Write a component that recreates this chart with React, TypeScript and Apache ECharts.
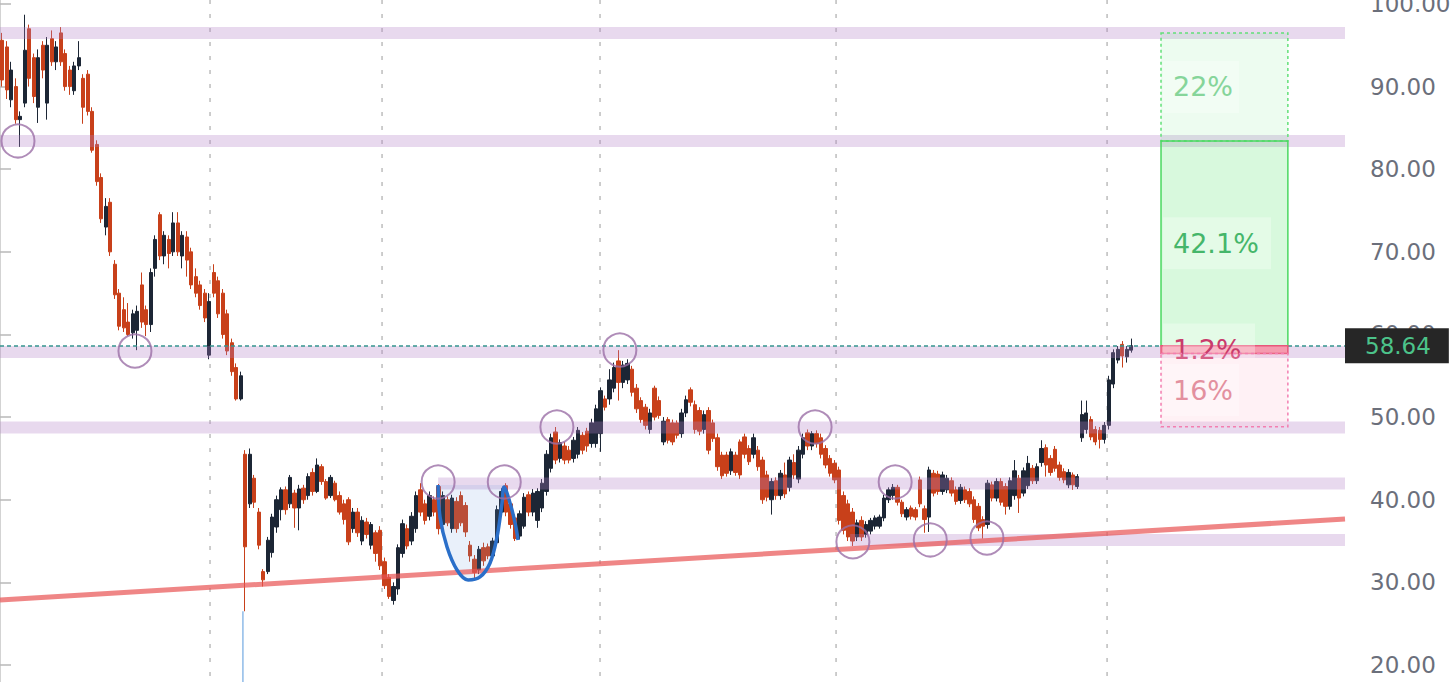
import React, { useEffect, useRef } from "react";
import * as echarts from "echarts";

// [open, close, low, high]
const ohlc: number[][] = [
  [95.6,90.8,90,96.5],[94.8,89.6,88.5,95.5],[88.4,92,87.5,93],[90,86,85.5,91],[86,86.4,82.7,87],
  [88,94.4,87.5,98.7],[97,91,90,97.5],[93.5,88.8,88,94],[87.5,93.5,85.6,94.5],[95,92,91,95.5],
  [88,95,86,96],[95.8,93,92.5,96.8],[93,94.8,92,95.5],[96.5,93,92.5,97.2],[94,90,89.5,94.5],
  [92,90,89,92.5],[89.5,92.5,89,93],[92.5,93.5,92,95.5],[91,87.5,85.5,91.5],[91.5,87,86.5,92],
  [87,82.3,82,87.5],[83,78.5,78,83.5],[79,74,73.5,79.5],[73,75.5,72,76.5],[76,70,69.5,76.5],
  [68.5,64.8,64.3,69],[65,61,60.5,65.5],[63,60.8,60.3,64.5],[61.5,60,59.8,63.8],[60.2,62.5,59.5,63],
  [60.5,62.8,58.1,63.5],[66,61.5,60.8,67.5],[63,61.2,59.8,63.5],[61.2,67.5,60.3,68],[68,71.5,67,72],
  [74.5,69.5,69,74.8],[69.5,72,68.5,72.5],[71.5,69.8,68,72],[70,73.5,69.5,74.8],[73.5,70,69.5,74.8],
  [69.5,72,68,72.5],[71.8,69,67,72.5],[70,66,65.5,70.5],[67,65,64.5,68],[66,63.5,63,66.5],
  [65,62,61.5,65.5],[57.5,64,57,65],[67.5,65,64.5,68.5],[66.5,62.5,62,67],[65,60,59.5,65.5],
  [62.5,58,57.5,63],[59,55.5,55,59.5],[56,52.2,52,56.5],[52.2,55,52,55.5],[45.5,34.3,26.5,46],
  [39.5,45.5,39,46.2],[42.6,39.7,39,43],[38.5,34.5,34,39],[31.3,30.3,29.5,31.6],[31.3,35.1,31,35.5],
  [33.6,37.9,33,38.3],[36.7,40,36,40.5],[38.8,41.2,37.5,41.5],[41.2,38.8,38.2,41.6],[39.5,42.7,39,43],
  [40.8,39,36.6,41.2],[39,41.3,36.3,41.8],[41.4,40,39.5,41.8],[40.5,42.8,40,43.2],[43.3,41,40.5,43.8],
  [41,44.2,40.8,45],[44,42.2,41.8,44.3],[42.2,40.2,40,42.5],[40.5,42.7,40.2,43],[42,40,39.8,42.3],
  [40.5,38.5,38.2,41],[39.5,37.6,37,40],[40,34.9,34.5,40.3],[36.5,38.5,36,39],[38.5,36,35.5,39],
  [35,37.5,34.5,38],[37.3,35.8,35.3,37.8],[34.5,37,34,37.3],[36,33.5,32.5,36.3],[36.3,32,31.5,36.8],
  [32.5,29.6,29.2,33],[30.6,28.3,28,31],[27.8,29.5,27.3,30],[29.2,34.2,28.5,34.6],[33.5,37.1,33,37.6],
  [36.5,34.4,34,37],[35,38,34.5,38.5],[36.5,40.5,36,41],[41.2,38.5,38,42],[39.5,37.5,37,40],
  [38,40.5,37.5,41],[40,38.5,38,40.4],[41.6,36.5,35.8,41.9],[37,40.5,36.5,41],[40,37.2,36.8,40.4],
  [36.5,40.2,36,40.6],[39.8,36.5,36,40.3],[40.5,37.2,36.8,41],[39.3,36.1,35.5,39.7],[34.5,33.2,32.5,35],
  [32.8,31.2,30.5,33.3],[31.5,34,31,34.4],[34.2,32.6,32,34.8],[34.3,33.2,32.8,34.7],[33.2,35,32.8,35.4],
  [34.8,38.8,34.5,39.3],[38.5,41,38,41.4],[41.7,38.5,38,42],[39.5,37,36.5,40],[37.8,35.3,35,38.2],
  [35.6,38.3,35.2,38.7],[36.8,40.3,36.5,40.8],[40.6,38.5,38,41],[38.5,40.8,38,41.3],[37.5,41,36.6,41.4],
  [39,42,38.5,42.5],[41,45.5,40.5,46],[43.8,47.5,43.3,48],[48.2,44.8,44.3,48.8],[45,46.9,44.5,47.3],
  [46.5,44.8,44.3,47],[46,44.8,44.4,46.5],[45,47.2,44.5,47.6],[45.5,48.4,45,48.8],[47.8,46,45.5,48.2],
  [48.3,46.5,45.8,48.7],[46.8,49.3,46.3,49.8],[46.8,51,46.3,51.5],[48,53.2,45.8,53.6],[52.2,51.2,50.8,52.6],
  [52.2,54.5,51.5,55.8],[53.5,56,53,56.6],[56.8,54.2,52,58.1],[54.2,56.3,53.5,56.8],[54.5,56.5,54,57],
  [55.8,53,52.5,56.2],[53.5,51,50.5,54],[52,49.7,49.3,52.4],[51.2,49,48.5,51.6],[48.5,50.5,48,51],
  [53.5,50,49.6,53.8],[52,50.2,49.8,52.5],[47,49.5,46.6,50],[49.7,47.2,46.8,50],[49.3,47,46.6,49.7],
  [49.3,47.8,47.4,49.6],[48,50.5,47.5,51],[50.5,52.1,50,52.6],[53.3,51.8,51.3,53.6],[51.5,48.5,48,52],
  [50.8,48.3,47.8,51.2],[48.5,50.3,48,50.8],[50.8,46,45.5,51.2],[49.3,47.4,47,49.7],[47.5,44,43.5,48],
  [45.4,42.9,42.5,45.8],[45.4,43.2,42.8,45.8],[43.5,45.8,43,46.2],[45.4,43.3,42.9,45.8],[47,43,42.5,47.3],
  [47.6,45.5,45,48],[46.2,44.6,44.2,46.6],[45.5,47.5,45,48],[46,44,43.5,46.5],[44.8,40,39.5,45.2],
  [43,40.3,39.8,43.5],[40,42.2,38.2,42.6],[42.3,40.5,40,42.7],[40.5,43.2,40,43.6],[43,40.7,40.2,44.5],
  [41.5,44.8,41,45.2],[44.5,43,42.5,45.5],[42.5,46,42,46.5],[45.5,47.5,45,48],[48.1,46.5,46,48.5],
  [46.5,48,46,48.3],[48,46.8,46.3,48.4],[47.5,45.5,45,48],[46.2,44.2,43.8,46.6],[45,43.2,42.8,45.4],
  [44.4,42.4,42,44.8],[43.6,37.5,37,44],[40.5,36.3,35.8,41],[39.5,35.5,35,40],[38.5,35,34.4,39],
  [35.5,37.2,35,37.6],[37.5,35.5,35,38],[35.8,37,35.4,37.4],[36.2,37.5,35.8,37.8],[36.8,37.8,36.4,38.1],
  [36.8,37.9,36.5,38.2],[37.8,40.2,37.4,40.6],[40,41.2,39.6,41.5],[40.5,41.5,40,41.9],[41.5,39.7,39.3,41.8],
  [39.7,38.3,37.9,40],[37.9,38.8,37.5,39.1],[39,38,37.6,39.3],[38.8,37.9,37.5,39.1],[42.4,39.5,39.1,42.8],
  [38.9,37.6,36,39.3],[37.9,43.6,36.1,44],[43.2,40.8,40.4,43.6],[43.1,41,40.6,43.5],[41,43,40.6,43.4],
  [41.2,42.6,40.8,43],[42.3,40.8,40.4,42.7],[41.2,39.8,39.4,41.6],[39.9,41.5,39.5,41.9],[41.2,40,39.6,41.6],
  [41,39.5,39.1,41.4],[40,37.6,37.2,40.4],[39.2,36.6,36.2,39.6],[37.6,36.8,35.3,38],[37,42,36.5,42.4],
  [41.8,40.2,39.8,42.2],[40.2,42.2,39.8,42.6],[42.2,39.7,39.3,42.6],[41.6,39.2,38.2,42],[39.2,42.3,38.8,42.7],
  [40.5,43.5,40,44.8],[42.6,40.2,38.4,43],[40.8,43.5,40.4,43.9],[41.7,44.4,41.3,45.3],[43.8,42.3,41.9,44.2],
  [42.3,44,41.9,44.4],[44.5,46.2,44,47.2],[46.3,44.2,42.8,46.7],[45,43.3,42.9,45.4],[46.1,43.8,43.4,46.5],
  [44.2,42.7,42.3,44.6],[43.4,42.4,42,43.8],[41.8,43.3,41.4,43.7],[43,41.8,41.2,43.3],[41.6,42.8,41.3,43.1],
  [47.5,50.3,47,52],[48.5,50.5,48,52],[49.7,47.6,47.2,50.1],[48.5,47,46.6,48.9],[48.4,47.3,46.2,48.8],
  [47.3,49,46.8,49.4],[49,54.5,48.5,55],[54,57.8,53.5,58.2],[56.9,58.2,56.5,58.6],[58.8,57.4,56,59.2],
  [57.3,58.2,56.6,58.6],[58.1,58.64,57.8,59.5],
];

const slotCount = 299;
const slots = Array.from({ length: slotCount }, (_, i) => String(i));
const yTicks = [20, 30, 40, 50, 60, 70, 80, 90, 100];
const yMin = 17.94;
const yMax = 100.48;
const currentPrice = 58.64;

const dividerSlots = [46.69, 84.93, 133.39, 185.86, 246.11];
// [fromSlot, toSlot, level]
const levelBands = [
  [0, 299, 96.49],
  [0, 299, 83.42],
  [0, 299, 57.88],
  [0, 299, 48.74],
  [97.4, 299, 41.97],
  [189, 299, 35.13],
];
const bandHalf = 0.72;
const touchPoints = [
  [4.0, 83.42], [30.0, 58.0], [97.4, 42.15], [112.1, 42.15], [123.8, 48.8], [137.8, 58.12],
  [181.2, 48.8], [189.6, 34.9], [199.0, 42.15], [206.8, 35.13], [219.4, 35.37],
];
const trendLine = [[0, 27.87], [299, 37.67]];
const cupPath = [
  [97.38, 41.79], [97.82, 37.91], [99.38, 34.28], [101.6, 31.5], [104.05, 30.29], [106.71, 30.65],
  [108.94, 32.34], [110.49, 35.49], [111.61, 39.61], [112.05, 41.54], [113.38, 39.61], [114.5, 37.19],
  [115.16, 35.13],
];
const cupRim = 41.79;
const gapWick = [[54.0, 26.5], [54.0, 17.9]];
const toolSlots = [258.1, 286.3];
const toolLevels = [96.49, 83.42, 58.64, 57.7, 48.83];
const toolLabels = ["22%", "42.1%", "1.2%", "16%"];

const FONT = "'DejaVu Sans', Verdana, sans-serif";

const zoneStyles = [
  { fill: "rgba(110,230,130,0.12)", stroke: "#62e078", dash: [3, 3], text: "#86d59a" },
  { fill: "rgba(100,230,120,0.25)", stroke: "#4bd861", dash: null, text: "#45b66a" },
  { fill: "#f59aae", stroke: "#e8577a", dash: null, text: "#c93c6c" },
  { fill: "rgba(255,200,215,0.25)", stroke: "#f37eb0", dash: [3, 3], text: "#e3909f" },
];

export default function App() {
  const ref = useRef<HTMLDivElement>(null);

  useEffect(() => {
    if (!ref.current) return;
    const chart = echarts.init(ref.current, null, { renderer: "svg" });

    const toolData = toolLabels.map((_, k) => [toolSlots[0], toolSlots[1], toolLevels[k], toolLevels[k + 1], k]);

    const option: any = {
      animation: false,
      backgroundColor: "#ffffff",
      grid: { left: 0, right: 111, top: 0, bottom: 0, containLabel: false, outerBoundsMode: "none" },
      xAxis: [
        { type: "category", data: slots, show: false, boundaryGap: true },
        { type: "value", min: 0, max: slotCount, show: false, position: "top" },
      ],
      yAxis: {
        type: "value",
        position: "right",
        min: yMin,
        max: yMax,
        splitLine: { show: false },
        axisLine: { show: true, lineStyle: { color: "#c4c4c4", width: 1.5 } },
        axisTick: { show: true, length: 11, customValues: yTicks, lineStyle: { color: "#b8b8b8", width: 1.5 } },
        axisLabel: {
          customValues: yTicks,
          margin: 25,
          color: "#6b6f7b",
          fontSize: 23,
          fontFamily: FONT,
          formatter: (v: number) => (Math.abs(v / 10 - Math.round(v / 10)) < 1e-6 ? v.toFixed(2) : ""),
        },
      },
      series: [
        {
          type: "custom",
          name: "dividers",
          xAxisIndex: 1,
          z: 1,
          silent: true,
          data: dividerSlots.map((u) => [u, yMax]),
          renderItem: (params: any, api: any) => {
            const a = api.coord([api.value(0), yMax]);
            const b = api.coord([api.value(0), yMin]);
            return {
              type: "line",
              shape: { x1: a[0], y1: a[1], x2: b[0], y2: b[1] },
              style: { stroke: "#bdbdbd", lineWidth: 1.5, lineDash: [4, 10] },
            };
          },
        },
        {
          type: "candlestick",
          xAxisIndex: 0,
          z: 2,
          barWidth: 3.8,
          data: ohlc,
          itemStyle: {
            color: "#1c2635",
            color0: "#c8401a",
            borderColor: "#1c2635",
            borderColor0: "#c8401a",
            borderWidth: 1,
          },
        },
        {
          type: "line",
          xAxisIndex: 1,
          z: 2,
          data: gapWick,
          symbol: "none",
          lineStyle: { color: "#8fbbe8", width: 1.5 },
        },
        {
          type: "custom",
          name: "bands",
          xAxisIndex: 1,
          z: 3,
          silent: true,
          data: levelBands,
          renderItem: (params: any, api: any) => {
            const p0 = api.coord([api.value(0), api.value(2) + bandHalf]);
            const p1 = api.coord([api.value(1), api.value(2) - bandHalf]);
            return {
              type: "rect",
              shape: { x: p0[0], y: p0[1], width: p1[0] - p0[0], height: p1[1] - p0[1] },
              style: { fill: "rgba(180,130,200,0.3)" },
            };
          },
        },
        {
          type: "line",
          xAxisIndex: 1,
          z: 3,
          data: cupPath.slice(0, 10),
          smooth: 0.35,
          symbol: "none",
          lineStyle: { width: 0, opacity: 0 },
          areaStyle: { origin: cupRim, color: "rgba(110,160,225,0.22)" },
        },
        {
          type: "line",
          xAxisIndex: 1,
          z: 4,
          data: trendLine,
          symbol: "none",
          lineStyle: { color: "rgba(232,82,82,0.7)", width: 5 },
        },
        {
          type: "line",
          xAxisIndex: 1,
          z: 5,
          data: cupPath,
          smooth: 0.35,
          symbol: "none",
          lineStyle: { color: "#2a6fc9", width: 3.5 },
        },
        {
          type: "custom",
          name: "tool",
          xAxisIndex: 1,
          z: 6,
          silent: true,
          data: toolData,
          renderItem: (params: any, api: any) => {
            const k = api.value(4);
            const st = zoneStyles[k];
            const p0 = api.coord([api.value(0), api.value(2)]);
            const p1 = api.coord([api.value(1), api.value(3)]);
            const cy = (p0[1] + p1[1]) / 2;
            const label = toolLabels[k];
            const tw = label.length * 16 + 8;
            return {
              type: "group",
              children: [
                {
                  type: "rect",
                  shape: { x: p0[0], y: p0[1], width: p1[0] - p0[0], height: p1[1] - p0[1] },
                  style: { fill: st.fill, stroke: st.stroke, lineWidth: 1.5, lineDash: st.dash || undefined },
                },
                {
                  type: "rect",
                  shape: { x: p0[0] + 2, y: cy - 26, width: tw + 20, height: 52 },
                  style: { fill: "rgba(255,255,255,0.3)" },
                },
                {
                  type: "text",
                  x: p0[0] + 12,
                  y: cy,
                  style: {
                    text: label,
                    fill: st.text,
                    font: `27px ${FONT}`,
                    align: "left",
                    verticalAlign: "middle",
                  },
                },
              ],
            };
          },
        },
        {
          type: "scatter",
          xAxisIndex: 1,
          z: 7,
          data: touchPoints,
          symbol: "circle",
          symbolSize: 33,
          silent: true,
          itemStyle: { color: "rgba(0,0,0,0)", borderColor: "#9b6fa6", borderWidth: 2 },
          markLine: {
            silent: true,
            symbol: ["none", "none"],
            data: [{ yAxis: currentPrice }],
            lineStyle: { color: "#35948f", type: [4, 3], width: 1.5 },
            label: {
              show: true,
              position: "end",
              distance: 0,
              formatter: () => currentPrice.toFixed(2),
              backgroundColor: "#262626",
              color: "#4cc38a",
              fontSize: 23,
              fontFamily: FONT,
              padding: [6, 18, 6, 20],
            },
          },
        },
      ],
    };

    chart.setOption(option);
    return () => chart.dispose();
  }, []);

  return (
    <div
      ref={ref}
      style={{ position: "fixed", left: 0, top: 0, width: 1456, height: 682, background: "#fff" }}
    />
  );
}
